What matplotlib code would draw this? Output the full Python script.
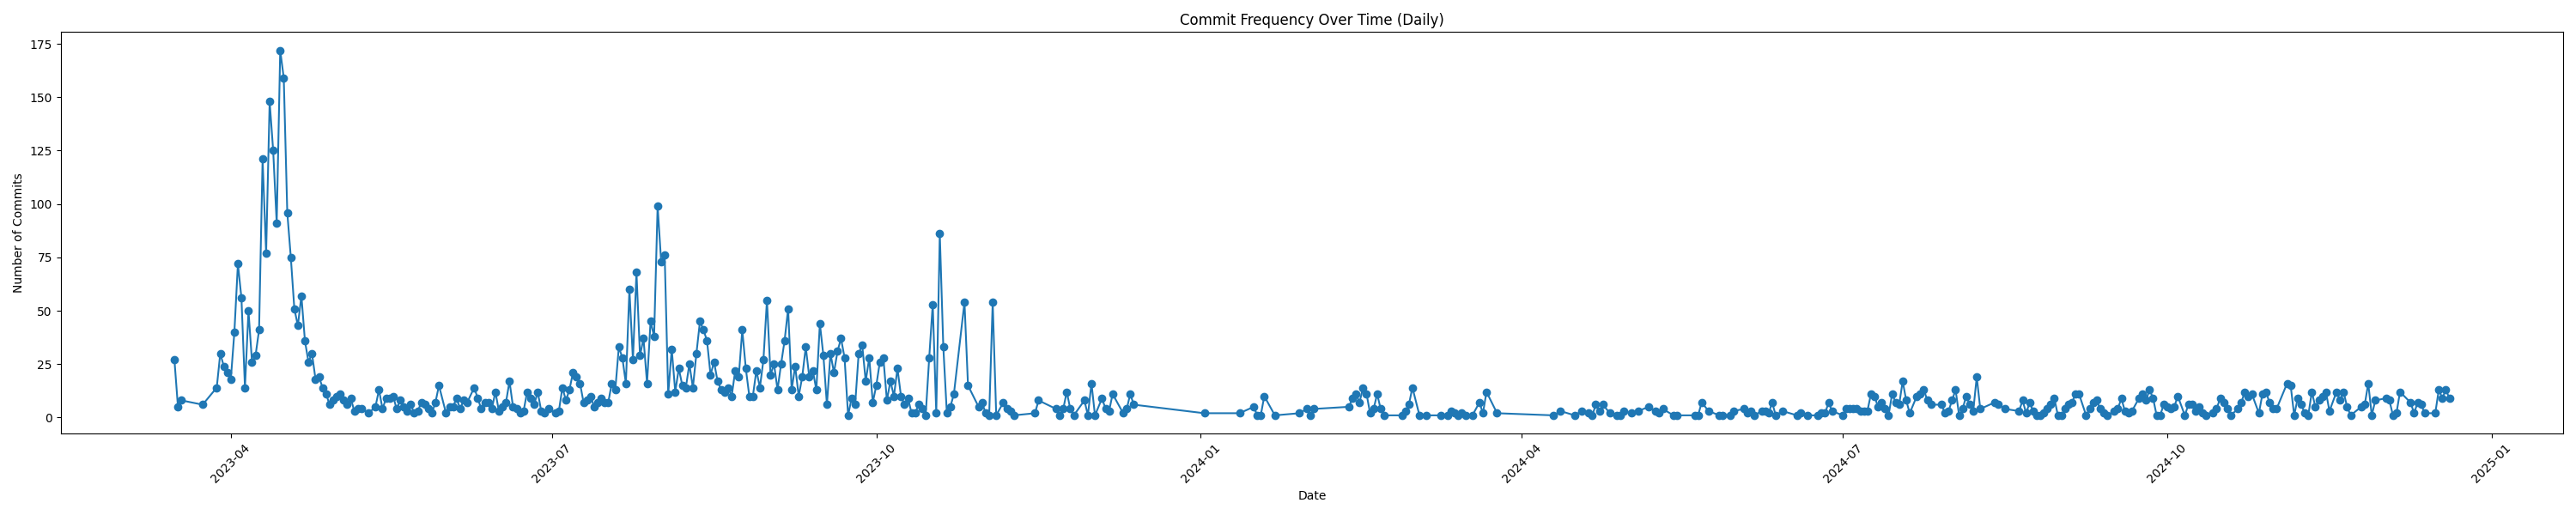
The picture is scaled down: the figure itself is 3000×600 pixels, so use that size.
import pandas as pd
import matplotlib
matplotlib.use('Agg')
import matplotlib.pyplot as plt

# daily commit counts (only days with commits)
dates = [
    '2023-03-16', '2023-03-17', '2023-03-18', '2023-03-24', '2023-03-28', '2023-03-29', '2023-03-30', '2023-03-31',
    '2023-04-01', '2023-04-02', '2023-04-03', '2023-04-04', '2023-04-05', '2023-04-06', '2023-04-07', '2023-04-08',
    '2023-04-09', '2023-04-10', '2023-04-11', '2023-04-12', '2023-04-13', '2023-04-14', '2023-04-15', '2023-04-16',
    '2023-04-17', '2023-04-18', '2023-04-19', '2023-04-20', '2023-04-21', '2023-04-22', '2023-04-23', '2023-04-24',
    '2023-04-25', '2023-04-26', '2023-04-27', '2023-04-28', '2023-04-29', '2023-04-30',
    '2023-05-01', '2023-05-02', '2023-05-03', '2023-05-04', '2023-05-05', '2023-05-06', '2023-05-07', '2023-05-08',
    '2023-05-10', '2023-05-12', '2023-05-13', '2023-05-14', '2023-05-15', '2023-05-16', '2023-05-17', '2023-05-18',
    '2023-05-19', '2023-05-20', '2023-05-21', '2023-05-22', '2023-05-23', '2023-05-24', '2023-05-25', '2023-05-26',
    '2023-05-27', '2023-05-28', '2023-05-29', '2023-05-30',
    '2023-06-01', '2023-06-02', '2023-06-03', '2023-06-04', '2023-06-05', '2023-06-06', '2023-06-07', '2023-06-09',
    '2023-06-10', '2023-06-11', '2023-06-12', '2023-06-13', '2023-06-14', '2023-06-15', '2023-06-16', '2023-06-17',
    '2023-06-18', '2023-06-19', '2023-06-20', '2023-06-21', '2023-06-22', '2023-06-23', '2023-06-24', '2023-06-25',
    '2023-06-26', '2023-06-27', '2023-06-28', '2023-06-29', '2023-06-30',
    '2023-07-02', '2023-07-03', '2023-07-04', '2023-07-05', '2023-07-06', '2023-07-07', '2023-07-08', '2023-07-09',
    '2023-07-10', '2023-07-11', '2023-07-12', '2023-07-13', '2023-07-14', '2023-07-15', '2023-07-16', '2023-07-17',
    '2023-07-18', '2023-07-19', '2023-07-20', '2023-07-21', '2023-07-22', '2023-07-23', '2023-07-24', '2023-07-25',
    '2023-07-26', '2023-07-27', '2023-07-28', '2023-07-29', '2023-07-30', '2023-07-31',
    '2023-08-01', '2023-08-02', '2023-08-03', '2023-08-04', '2023-08-05', '2023-08-06', '2023-08-07', '2023-08-08',
    '2023-08-09', '2023-08-10', '2023-08-11', '2023-08-12', '2023-08-13', '2023-08-14', '2023-08-15', '2023-08-16',
    '2023-08-17', '2023-08-18', '2023-08-19', '2023-08-20', '2023-08-21', '2023-08-22', '2023-08-23', '2023-08-24',
    '2023-08-25', '2023-08-26', '2023-08-27', '2023-08-28', '2023-08-29', '2023-08-30', '2023-08-31',
    '2023-09-01', '2023-09-02', '2023-09-03', '2023-09-04', '2023-09-05', '2023-09-06', '2023-09-07', '2023-09-08',
    '2023-09-09', '2023-09-10', '2023-09-11', '2023-09-12', '2023-09-13', '2023-09-14', '2023-09-15', '2023-09-16',
    '2023-09-17', '2023-09-18', '2023-09-19', '2023-09-20', '2023-09-21', '2023-09-22', '2023-09-23', '2023-09-24',
    '2023-09-25', '2023-09-26', '2023-09-27', '2023-09-28', '2023-09-29', '2023-09-30',
    '2023-10-01', '2023-10-02', '2023-10-03', '2023-10-04', '2023-10-05', '2023-10-06', '2023-10-07', '2023-10-08',
    '2023-10-09', '2023-10-10', '2023-10-11', '2023-10-12', '2023-10-13', '2023-10-14', '2023-10-15', '2023-10-16',
    '2023-10-17', '2023-10-18', '2023-10-19', '2023-10-20', '2023-10-21', '2023-10-22', '2023-10-23', '2023-10-26',
    '2023-10-27', '2023-10-30', '2023-10-31',
    '2023-11-01', '2023-11-02', '2023-11-03', '2023-11-04', '2023-11-06', '2023-11-07', '2023-11-08', '2023-11-09',
    '2023-11-15', '2023-11-16', '2023-11-21', '2023-11-22', '2023-11-23', '2023-11-24', '2023-11-25', '2023-11-26',
    '2023-11-29', '2023-11-30',
    '2023-12-01', '2023-12-02', '2023-12-04', '2023-12-05', '2023-12-06', '2023-12-07', '2023-12-10', '2023-12-11',
    '2023-12-12', '2023-12-13',
    '2024-01-02', '2024-01-12', '2024-01-16', '2024-01-17', '2024-01-18', '2024-01-19', '2024-01-22', '2024-01-29',
    '2024-01-31',
    '2024-02-01', '2024-02-02', '2024-02-12', '2024-02-13', '2024-02-14', '2024-02-15', '2024-02-16', '2024-02-17',
    '2024-02-18', '2024-02-19', '2024-02-20', '2024-02-21', '2024-02-22', '2024-02-27', '2024-02-28', '2024-02-29',
    '2024-03-01', '2024-03-03', '2024-03-05', '2024-03-09', '2024-03-11', '2024-03-12', '2024-03-13', '2024-03-14',
    '2024-03-15', '2024-03-16', '2024-03-18', '2024-03-20', '2024-03-21', '2024-03-22', '2024-03-25',
    '2024-04-10', '2024-04-12', '2024-04-16', '2024-04-18', '2024-04-20', '2024-04-21', '2024-04-22', '2024-04-23',
    '2024-04-24', '2024-04-26', '2024-04-28', '2024-04-29', '2024-04-30',
    '2024-05-02', '2024-05-04', '2024-05-07', '2024-05-09', '2024-05-10', '2024-05-11', '2024-05-14', '2024-05-15',
    '2024-05-20', '2024-05-21', '2024-05-22', '2024-05-24', '2024-05-27', '2024-05-28', '2024-05-30', '2024-05-31',
    '2024-06-03', '2024-06-04', '2024-06-05', '2024-06-06', '2024-06-08', '2024-06-09', '2024-06-10', '2024-06-11',
    '2024-06-12', '2024-06-14', '2024-06-18', '2024-06-19', '2024-06-21', '2024-06-24', '2024-06-25', '2024-06-26',
    '2024-06-27', '2024-06-28',
    '2024-07-01', '2024-07-02', '2024-07-03', '2024-07-04', '2024-07-05', '2024-07-06', '2024-07-07', '2024-07-08',
    '2024-07-09', '2024-07-10', '2024-07-11', '2024-07-12', '2024-07-13', '2024-07-14', '2024-07-15', '2024-07-16',
    '2024-07-17', '2024-07-18', '2024-07-19', '2024-07-20', '2024-07-22', '2024-07-23', '2024-07-24', '2024-07-25',
    '2024-07-26', '2024-07-29', '2024-07-30', '2024-07-31',
    '2024-08-01', '2024-08-02', '2024-08-03', '2024-08-04', '2024-08-05', '2024-08-06', '2024-08-07', '2024-08-08',
    '2024-08-09', '2024-08-13', '2024-08-14', '2024-08-16', '2024-08-20', '2024-08-21', '2024-08-22', '2024-08-23',
    '2024-08-24', '2024-08-25', '2024-08-26', '2024-08-27', '2024-08-28', '2024-08-29', '2024-08-30', '2024-08-31',
    '2024-09-01', '2024-09-02', '2024-09-03', '2024-09-04', '2024-09-05', '2024-09-06', '2024-09-08', '2024-09-09',
    '2024-09-10', '2024-09-11', '2024-09-12', '2024-09-13', '2024-09-14', '2024-09-16', '2024-09-17', '2024-09-18',
    '2024-09-19', '2024-09-20', '2024-09-21', '2024-09-23', '2024-09-24', '2024-09-25', '2024-09-26', '2024-09-27',
    '2024-09-28', '2024-09-29', '2024-09-30',
    '2024-10-01', '2024-10-02', '2024-10-03', '2024-10-04', '2024-10-06', '2024-10-07', '2024-10-08', '2024-10-09',
    '2024-10-10', '2024-10-11', '2024-10-12', '2024-10-14', '2024-10-15', '2024-10-16', '2024-10-17', '2024-10-18',
    '2024-10-19', '2024-10-21', '2024-10-22', '2024-10-23', '2024-10-24', '2024-10-25', '2024-10-27', '2024-10-28',
    '2024-10-29', '2024-10-30', '2024-10-31',
    '2024-11-01', '2024-11-04', '2024-11-05', '2024-11-06', '2024-11-07', '2024-11-08', '2024-11-09', '2024-11-10',
    '2024-11-11', '2024-11-12', '2024-11-13', '2024-11-14', '2024-11-15', '2024-11-16', '2024-11-18', '2024-11-19',
    '2024-11-20', '2024-11-21', '2024-11-22', '2024-11-25', '2024-11-26', '2024-11-27', '2024-11-28', '2024-11-29',
    '2024-12-02', '2024-12-03', '2024-12-04', '2024-12-05', '2024-12-06', '2024-12-09', '2024-12-10', '2024-12-11',
    '2024-12-12', '2024-12-13', '2024-12-16', '2024-12-17', '2024-12-18', '2024-12-19', '2024-12-20',
]

commits = [
    27, 5, 8, 6, 14, 30, 24, 21,
    18, 40, 72, 56, 14, 50, 26, 29,
    41, 121, 77, 148, 125, 91, 172, 159,
    96, 75, 51, 43, 57, 36, 26, 30,
    18, 19, 14, 11, 6, 8,
    10, 11, 8, 6, 9, 3, 4, 4,
    2, 5, 13, 4, 9, 9, 10, 4,
    8, 5, 3, 6, 2, 3, 7, 6,
    4, 2, 7, 15,
    2, 5, 5, 9, 4, 8, 7, 14,
    9, 4, 7, 7, 4, 12, 3, 5,
    7, 17, 5, 4, 2, 3, 12, 9,
    6, 12, 3, 2, 4,
    2, 3, 14, 8, 13, 21, 19, 16,
    7, 8, 10, 5, 7, 9, 7, 7,
    16, 13, 33, 28, 16, 60, 27, 68,
    29, 37, 16, 45, 38, 99,
    73, 76, 11, 32, 12, 23, 15, 14,
    25, 14, 30, 45, 41, 36, 20, 26,
    17, 13, 12, 14, 10, 22, 19, 41,
    23, 10, 10, 22, 14, 27, 55,
    20, 25, 13, 25, 36, 51, 13, 24,
    10, 19, 33, 19, 22, 13, 44, 29,
    6, 30, 21, 31, 37, 28, 1, 9,
    6, 30, 34, 17, 28, 7,
    15, 26, 28, 8, 17, 10, 23, 10,
    6, 9, 2, 2, 6, 4, 1, 28,
    53, 2, 86, 33, 2, 5, 11, 54,
    15, 5, 7,
    2, 1, 54, 1, 7, 4, 3, 1,
    2, 8, 4, 1, 4, 12, 4, 1,
    8, 1,
    16, 1, 9, 4, 3, 11, 2, 4,
    11, 6,
    2, 2, 5, 1, 1, 10, 1, 2,
    4,
    1, 4, 5, 9, 11, 7, 14, 11,
    2, 4, 11, 4, 1, 1, 3, 6,
    14, 1, 1, 1, 1, 3, 2, 1,
    2, 1, 1, 7, 2, 12, 2,
    1, 3, 1, 3, 2, 1, 6, 3,
    6, 2, 1, 1, 3,
    2, 3, 5, 3, 2, 4, 1, 1,
    1, 1, 7, 3, 1, 1, 1, 3,
    4, 2, 3, 1, 3, 3, 2, 7,
    1, 3, 1, 2, 1, 1, 2, 2,
    7, 3,
    1, 4, 4, 4, 4, 3, 3, 3,
    11, 10, 5, 7, 4, 1, 11, 7,
    6, 17, 8, 2, 10, 11, 13, 8,
    6, 6, 2, 3,
    8, 13, 1, 4, 10, 6, 3, 19,
    4, 7, 6, 4, 3, 8, 2, 7,
    3, 1, 1, 2, 4, 6, 9, 1,
    1, 4, 6, 7, 11, 11, 1, 4,
    7, 8, 4, 2, 1, 3, 4, 9,
    3, 2, 3, 9, 11, 8, 13, 9,
    1, 1, 6,
    5, 4, 5, 10, 1, 6, 6, 3,
    5, 2, 1, 2, 4, 9, 7, 4,
    1, 4, 7, 12, 10, 11, 2, 11,
    12, 7, 4,
    4, 16, 15, 1, 9, 6, 2, 1,
    12, 5, 8, 10, 12, 3, 12, 8,
    12, 5, 1, 5, 6, 16, 1, 8,
    9, 8, 1, 2, 12, 7, 2, 7,
    6, 2, 2, 13, 9, 13, 9,
]

df = pd.DataFrame({'date': pd.to_datetime(dates), 'commits': commits})

plt.figure(figsize=(30, 6))
plt.plot(df['date'], df['commits'], marker='o')
plt.title('Commit Frequency Over Time (Daily)')
plt.xlabel('Date')
plt.ylabel('Number of Commits')
plt.xticks(rotation=45)
plt.tight_layout()
plt.savefig('out.png', dpi=100)
